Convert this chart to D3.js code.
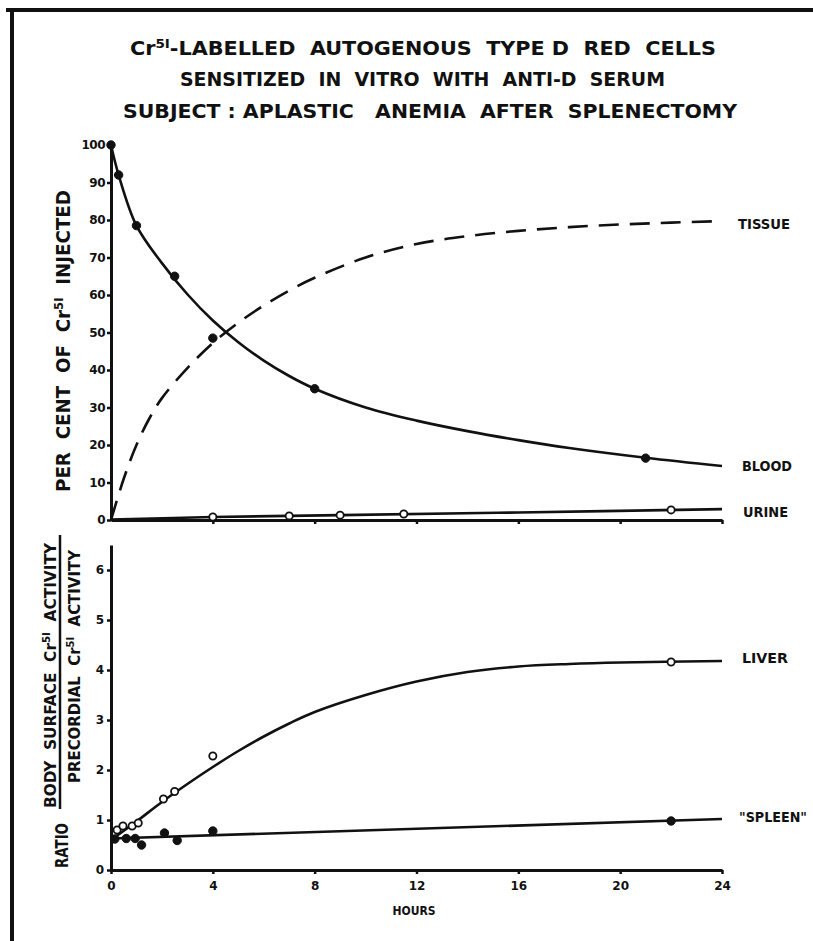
<!DOCTYPE html>
<html><head><meta charset="utf-8">
<script src="https://cdn.jsdelivr.net/npm/d3@7"></script>
<style>
body{margin:0;background:#fff;}
svg text{font-family:"DejaVu Sans Condensed","DejaVu Sans","Liberation Sans Narrow",sans-serif;font-weight:bold;fill:#111;white-space:pre;}
</style></head>
<body>
<svg id="c" width="813" height="941"></svg>
<script>
// ---------- DATA ----------
const hourTicks = [0, 4, 8, 12, 16, 20, 24];
const pctTicks = [0, 10, 20, 30, 40, 50, 60, 70, 80, 90, 100];
const ratioTicks = [0, 1, 2, 3, 4, 5, 6];

// top panel: per cent of Cr51 injected
const bloodObsT = [0, 0.3, 1, 2.5, 4, 8, 21];
const bloodObsV = [100, 92, 78.5, 65, 48.5, 35, 16.5];
const bloodCurveT = [0, 0.3, 1, 2, 3, 4, 5, 6, 7, 8, 10, 12, 14, 16, 18, 21, 24];
const bloodCurveV = [100, 92, 78.5, 68.5, 60.2, 53.2, 47.4, 42.5, 38.4, 35, 30, 26.5, 23.7, 21.3, 19.2, 16.6, 14.4];
const tissueT = [0, 0.5, 1, 1.5, 2, 3, 4, 5, 6, 7, 8, 10, 12, 14, 16, 18, 20, 22, 24];
const tissueV = [0, 11, 20, 27, 32.5, 40.5, 47.2, 52.6, 57.2, 61.2, 64.6, 70, 73.6, 75.7, 77.1, 78.1, 78.8, 79.3, 79.7];
const urineObsT = [4, 7, 9, 11.5, 22];
const urineObsV = [0.8, 1.1, 1.3, 1.6, 2.7];
const urineLineT = [0, 4, 9, 16, 24];
const urineLineV = [0.1, 0.8, 1.3, 2.0, 2.9];

// bottom panel: ratio body surface / precordial activity
const liverObsT = [0.24, 0.47, 0.83, 1.07, 2.06, 2.5, 4, 22];
const liverObsV = [0.8, 0.88, 0.88, 0.94, 1.42, 1.57, 2.28, 4.16];
const liverCurveT = [0, 1, 2, 3, 4, 5, 6, 7, 8, 10, 12, 14, 16, 18, 20, 24];
const liverCurveV = [0.6, 0.97, 1.36, 1.72, 2.06, 2.38, 2.67, 2.93, 3.16, 3.5, 3.77, 3.96, 4.07, 4.12, 4.15, 4.18];
const spleenObsT = [0.15, 0.6, 0.95, 1.2, 2.1, 2.6, 4, 22];
const spleenObsV = [0.62, 0.63, 0.63, 0.5, 0.74, 0.59, 0.78, 0.98];
const spleenLineT = [0, 24];
const spleenLineV = [0.63, 1.02];

const zip = (t, v) => t.map((d, i) => [d, v[i]]);

// ---------- DRAW ----------
const svg = d3.select("#c");
svg.append("rect").attr("width", 813).attr("height", 941).attr("fill", "#fff");
// frame
svg.append("line").attr("x1", 6).attr("x2", 813).attr("y1", 10).attr("y2", 10).attr("stroke", "#111").attr("stroke-width", 4);
svg.append("line").attr("x1", 12).attr("x2", 12).attr("y1", 8).attr("y2", 941).attr("stroke", "#111").attr("stroke-width", 4);

// title
const t1 = svg.append("text").attr("x", 130).attr("y", 55).attr("font-size", 20)
  .attr("textLength", 586).attr("lengthAdjust", "spacingAndGlyphs");
t1.append("tspan").text("Cr");
t1.append("tspan").attr("dy", -7).attr("font-size", 13).text("5I");
t1.append("tspan").attr("dy", 7).text("-LABELLED  AUTOGENOUS  TYPE D  RED  CELLS");
svg.append("text").attr("x", 180).attr("y", 86).attr("font-size", 20)
  .attr("textLength", 485).attr("lengthAdjust", "spacingAndGlyphs")
  .text("SENSITIZED  IN  VITRO  WITH  ANTI-D  SERUM");
svg.append("text").attr("x", 123).attr("y", 118).attr("font-size", 20)
  .attr("textLength", 614).attr("lengthAdjust", "spacingAndGlyphs")
  .text("SUBJECT : APLASTIC   ANEMIA  AFTER  SPLENECTOMY");

const x = d3.scaleLinear().domain([0, 24]).range([111, 722]);
const yTop = d3.scaleLinear().domain([0, 100]).range([520, 145]);
const yBot = d3.scaleLinear().domain([0, 6.5]).range([870, 545]);

function styleAxis(g) {
  g.select(".domain").attr("stroke", "#111").attr("stroke-width", 3);
  g.selectAll(".tick line").attr("stroke", "#111").attr("stroke-width", 2.5);
  g.selectAll(".tick text").attr("font-size", 12).attr("fill", "#111")
    .style("font-family", "'DejaVu Sans',sans-serif").style("font-weight", "bold");
}

// top axes
const gyT = svg.append("g").attr("transform", "translate(111,0)")
  .call(d3.axisLeft(yTop).tickValues(pctTicks).tickFormat(d3.format("d")).tickSize(4).tickSizeOuter(0).tickPadding(2));
styleAxis(gyT);
gyT.selectAll(".tick text").attr("letter-spacing", -0.5);
const gxT = svg.append("g").attr("transform", "translate(0,520)")
  .call(d3.axisBottom(x).tickValues(hourTicks.slice(1)).tickFormat("").tickSize(4).tickSizeOuter(0));
styleAxis(gxT);

// bottom axes
const gyB = svg.append("g").attr("transform", "translate(111,0)")
  .call(d3.axisLeft(yBot).tickValues(ratioTicks).tickFormat(d3.format("d")).tickSize(4).tickSizeOuter(0).tickPadding(3));
styleAxis(gyB);
const gxB = svg.append("g").attr("transform", "translate(0,870)")
  .call(d3.axisBottom(x).tickValues(hourTicks).tickFormat(d3.format("d")).tickSize(4).tickSizeOuter(0).tickPadding(7));
styleAxis(gxB);

// lines
const line = d3.line().x(d => x(d[0])).curve(d3.curveCatmullRom.alpha(0.5));
function drawLine(data, yS, dash) {
  svg.append("path").datum(data)
    .attr("d", line.y(d => yS(d[1])))
    .attr("fill", "none").attr("stroke", "#111").attr("stroke-width", 2.6)
    .attr("stroke-dasharray", dash || null);
}
drawLine(zip(bloodCurveT, bloodCurveV), yTop);
drawLine(zip(tissueT, tissueV), yTop, "20,11");
drawLine(zip(urineLineT, urineLineV), yTop);
drawLine(zip(liverCurveT, liverCurveV), yBot);
drawLine(zip(spleenLineT, spleenLineV), yBot);

function dots(data, yS, filled) {
  svg.append("g").selectAll("circle").data(data).join("circle")
    .attr("cx", d => x(d[0])).attr("cy", d => yS(d[1]))
    .attr("r", filled ? 4.2 : 3.6)
    .attr("fill", filled ? "#111" : "#fff")
    .attr("stroke", "#111").attr("stroke-width", filled ? 1 : 1.8);
}
dots(zip(bloodObsT, bloodObsV), yTop, true);
dots(zip(urineObsT, urineObsV), yTop, false);
dots(zip(liverObsT, liverObsV), yBot, false);
dots(zip(spleenObsT, spleenObsV), yBot, true);

// series labels
function lab(txt, x0, yc, len) {
  svg.append("text").attr("x", x0).attr("y", yc + 5.5).attr("font-size", 14)
    .attr("textLength", len).attr("lengthAdjust", "spacingAndGlyphs").text(txt);
}
lab("TISSUE", 738, 223, 52);
lab("BLOOD", 742, 465, 50);
lab("URINE", 743, 511, 45);
lab("LIVER", 742, 657, 46);
lab("\"SPLEEN\"", 739, 816, 68);

// x label
svg.append("text").attr("x", 414).attr("y", 915).attr("text-anchor", "middle")
  .attr("font-size", 12).text("HOURS");

// y label top
const yl = svg.append("text").attr("transform", "translate(70,492) rotate(-90)")
  .attr("font-size", 19).attr("textLength", 302).attr("lengthAdjust", "spacingAndGlyphs");
yl.append("tspan").text("PER  CENT  OF  Cr");
yl.append("tspan").attr("dy", -7).attr("font-size", 12).text("5I");
yl.append("tspan").attr("dy", 7).text("  INJECTED");

// y label bottom
svg.append("text").attr("transform", "translate(68,868) rotate(-90)")
  .attr("font-size", 17).attr("textLength", 45).attr("lengthAdjust", "spacingAndGlyphs").text("RATIO");
const num = svg.append("text").attr("transform", "translate(56,808) rotate(-90)")
  .attr("font-size", 15).attr("textLength", 265).attr("lengthAdjust", "spacingAndGlyphs");
num.append("tspan").text("BODY  SURFACE  Cr");
num.append("tspan").attr("dy", -6).attr("font-size", 10).text("5I");
num.append("tspan").attr("dy", 6).text("  ACTIVITY");
svg.append("line").attr("x1", 60).attr("x2", 60).attr("y1", 535).attr("y2", 809)
  .attr("stroke", "#111").attr("stroke-width", 2.5);
const den = svg.append("text").attr("transform", "translate(80,783) rotate(-90)")
  .attr("font-size", 15).attr("textLength", 233).attr("lengthAdjust", "spacingAndGlyphs");
den.append("tspan").text("PRECORDIAL  Cr");
den.append("tspan").attr("dy", -6).attr("font-size", 10).text("5I");
den.append("tspan").attr("dy", 6).text("  ACTIVITY");
</script>
</body></html>
